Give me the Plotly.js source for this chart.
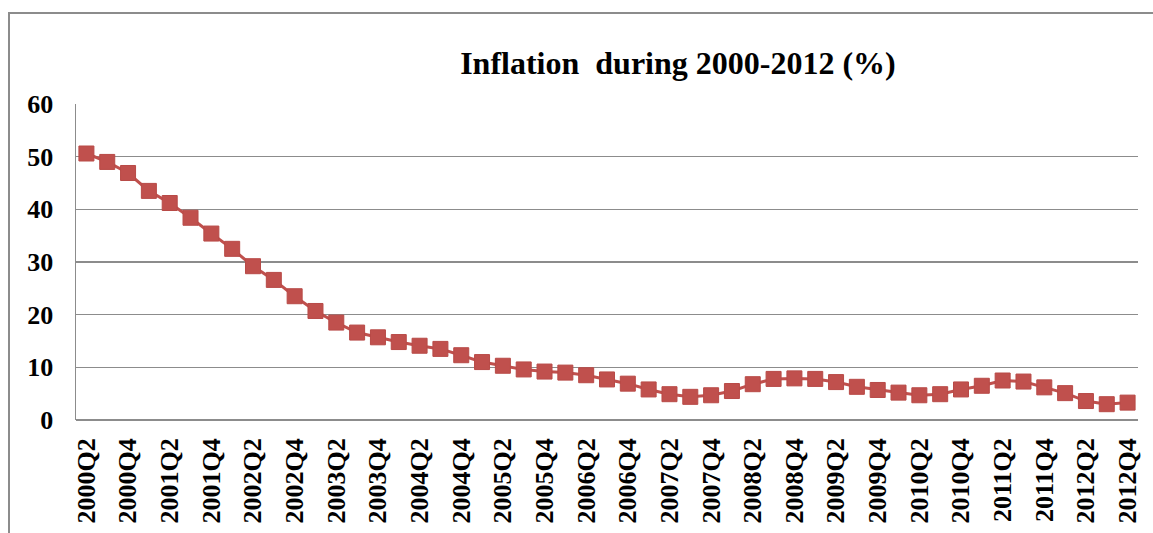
<!DOCTYPE html>
<html>
<head>
<meta charset="utf-8">
<script src="https://cdn.plot.ly/plotly-3.0.1.min.js"></script>
<style>
  html, body { margin: 0; padding: 0; background: #fff; overflow: hidden; }
  #frame { position: absolute; left: 8px; top: 12px; width: 1145px; height: 521px;
           border-left: 2px solid #8c8c8c; border-top: 2px solid #8c8c8c; }
  #chart { position: absolute; left: 0; top: 0; width: 1153px; height: 533px; }
</style>
</head>
<body>
<div id="frame"></div>
<div id="chart"></div>
<script>
// Quarterly periods, 2000Q2 through 2012Q4
const quarters = [
  "2000Q2","2000Q3","2000Q4",
  "2001Q1","2001Q2","2001Q3","2001Q4",
  "2002Q1","2002Q2","2002Q3","2002Q4",
  "2003Q1","2003Q2","2003Q3","2003Q4",
  "2004Q1","2004Q2","2004Q3","2004Q4",
  "2005Q1","2005Q2","2005Q3","2005Q4",
  "2006Q1","2006Q2","2006Q3","2006Q4",
  "2007Q1","2007Q2","2007Q3","2007Q4",
  "2008Q1","2008Q2","2008Q3","2008Q4",
  "2009Q1","2009Q2","2009Q3","2009Q4",
  "2010Q1","2010Q2","2010Q3","2010Q4",
  "2011Q1","2011Q2","2011Q3","2011Q4",
  "2012Q1","2012Q2","2012Q3","2012Q4"
];

// Inflation rate (%) for each quarter
const inflation = [
  50.6, 49.0, 46.9,
  43.5, 41.2, 38.4, 35.4,
  32.5, 29.2, 26.6, 23.5,
  20.7, 18.5, 16.6, 15.7,
  14.8, 14.1, 13.5, 12.3,
  11.0, 10.3, 9.6, 9.2,
  9.0, 8.5, 7.7, 6.9,
  5.8, 4.9, 4.4, 4.7,
  5.5, 6.8, 7.8, 7.9,
  7.8, 7.2, 6.3, 5.7,
  5.2, 4.7, 4.9, 5.8,
  6.5, 7.5, 7.3, 6.2,
  5.1, 3.6, 3.0, 3.3
];

// Every other quarter carries a tick label
const labelledQuarters = quarters.filter((q, i) => i % 2 === 0);

const yTicks = [0, 10, 20, 30, 40, 50, 60];

const serif = "Liberation Serif";

const trace = {
  x: quarters,
  y: inflation,
  type: "scatter",
  mode: "lines+markers",
  line: { color: "#C0504D", width: 3 },
  marker: { symbol: "square", size: 15, color: "#C0504D",
            line: { color: "#B84A47", width: 1 } },
  hoverinfo: "x+y"
};

const layout = {
  width: 1153,
  height: 533,
  margin: { l: 76, r: 15, t: 104, b: 113 },
  paper_bgcolor: "rgba(0,0,0,0)",
  plot_bgcolor: "rgba(0,0,0,0)",
  showlegend: false,
  title: {
    text: "<b>Inflation  during 2000-2012 (%)</b>",
    font: { family: serif, size: 32, color: "#000" },
    xref: "container", yref: "container",
    x: 0.588, xanchor: "center",
    y: 0.883, yanchor: "middle"
  },
  xaxis: {
    type: "category",
    categoryorder: "array",
    categoryarray: quarters,
    range: [-0.5, quarters.length - 0.5],
    tickmode: "array",
    tickvals: labelledQuarters,
    ticktext: labelledQuarters.map(q => "<b>" + q + "</b>"),
    tickangle: -90,
    tickfont: { family: serif, size: 26, color: "#000" },
    showgrid: false,
    showline: false,
    zeroline: false,
    ticks: "",
    ticklabelstandoff: 12,
    fixedrange: true
  },
  yaxis: {
    range: [0, 60],
    tickmode: "array",
    tickvals: yTicks,
    ticktext: yTicks.map(v => "<b>" + v + "</b>"),
    tickfont: { family: serif, size: 26, color: "#000" },
    showgrid: true,
    gridcolor: "#8c8c8c",
    gridwidth: 1.5,
    showline: true,
    linecolor: "#8c8c8c",
    linewidth: 1.5,
    zeroline: true,
    zerolinecolor: "#8c8c8c",
    zerolinewidth: 1.5,
    ticks: "",
    ticklabelstandoff: 16,
    fixedrange: true
  }
};

Plotly.newPlot("chart", [trace], layout, { displayModeBar: false, staticPlot: true });
</script>
</body>
</html>
